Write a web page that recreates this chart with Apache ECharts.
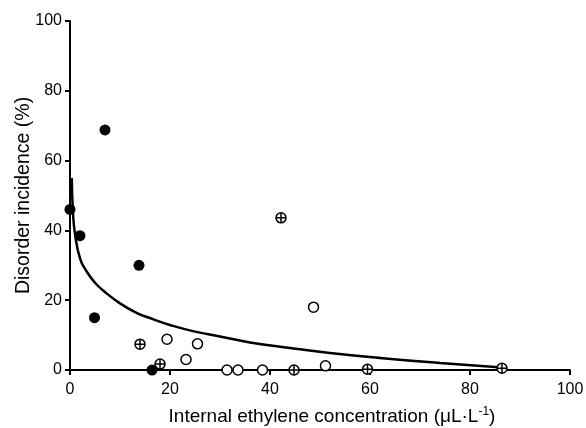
<!DOCTYPE html>
<html>
<head>
<meta charset="utf-8">
<script src="https://cdn.jsdelivr.net/npm/echarts@6/dist/echarts.min.js"></script>
<style>
  html, body { margin: 0; padding: 0; background: #fff; }
  #chart { width: 586px; height: 428px; }
</style>
</head>
<body>
<div id="chart"></div>
<script>
// filled circles
const filledX = [0, 2.0, 4.9, 7.0, 13.8, 16.4];
const filledY = [46, 38.5, 15, 68.8, 30, 0];

// open circles
const openX = [19.4, 23.2, 25.5, 31.4, 33.6, 38.5, 48.7, 51.1];
const openY = [8.8, 3.0, 7.5, 0, 0, 0, 18, 1.2];

// crossed circles
const crossX = [14.0, 18.0, 42.2, 44.8, 59.5, 86.4];
const crossY = [7.4, 1.7, 43.6, 0, 0.2, 0.5];

// fitted curve
const curveX = [0.35, 0.6, 1, 2, 3.3, 5, 6.7, 10, 13.3, 16.7, 20, 25, 30, 36, 44, 52, 62.5, 74, 86.4];
const curveY = [55, 45, 39, 32, 28.3, 25, 22.7, 19.1, 16.4, 14.5, 12.9, 11, 9.6, 7.9, 6.3, 4.9, 3.4, 2.0, 0.7];

const xTicks = [0, 20, 40, 60, 80, 100];
const yTicks = [0, 20, 40, 60, 80, 100];

const zip = (xs, ys) => xs.map((x, i) => [x, ys[i]]);

const font = "Liberation Sans, Arial, sans-serif";
const crossPath = "path://M0,-10A10,10 0 1,1 0,10A10,10 0 1,1 0,-10ZM-10,0L10,0M0,-10L0,10";

const chart = echarts.init(document.getElementById("chart"));

chart.setOption({
  animation: false,
  backgroundColor: "#fff",
  grid: { left: 70, right: 16, top: 21, bottom: 58, containLabel: false, outerBoundsMode: "none" },
  xAxis: {
    type: "value",
    min: xTicks[0],
    max: xTicks[xTicks.length - 1],
    interval: 20,
    name: "Internal ethylene concentration (μL·L{sup|-1})",
    nameLocation: "middle",
    nameGap: 36,
    nameMoveOverlap: false,
    nameTextStyle: {
      fontSize: 19,
      color: "#000",
      fontFamily: font,
      verticalAlign: "top",
      padding: [0, 0, 0, 24],
      rich: {
        sup: { fontSize: 12, color: "#000", fontFamily: font, verticalAlign: "top", padding: [0, 0, 9, 0] },
      },
    },
    axisLine: { show: true, lineStyle: { color: "#000", width: 2 } },
    axisTick: { show: true, length: 5, lineStyle: { color: "#000", width: 2 } },
    axisLabel: { color: "#000", fontSize: 16, fontFamily: font, margin: 12 },
    splitLine: { show: false },
  },
  yAxis: {
    type: "value",
    min: yTicks[0],
    max: yTicks[yTicks.length - 1],
    interval: 20,
    name: "Disorder incidence (%)",
    nameLocation: "middle",
    nameGap: 36,
    nameMoveOverlap: false,
    nameTextStyle: { fontSize: 19.5, color: "#000", fontFamily: font },
    axisLine: { show: true, lineStyle: { color: "#000", width: 2 } },
    axisTick: { show: true, length: 5, lineStyle: { color: "#000", width: 2 } },
    axisLabel: { color: "#000", fontSize: 16, fontFamily: font, margin: 8 },
    splitLine: { show: false },
  },
  series: [
    {
      type: "line",
      data: zip(curveX, curveY),
      smooth: 0.5,
      showSymbol: false,
      lineStyle: { color: "#000", width: 2.5 },
      z: 2,
    },
    {
      type: "scatter",
      data: zip(openX, openY),
      symbol: "circle",
      symbolSize: 10,
      clip: false,
      itemStyle: { color: "#fff", borderColor: "#000", borderWidth: 1.5, opacity: 1 },
      z: 3,
    },
    {
      type: "scatter",
      data: zip(crossX, crossY),
      symbol: crossPath,
      symbolSize: 10,
      clip: false,
      itemStyle: { color: "#fff", borderColor: "#000", borderWidth: 1.5, opacity: 1 },
      z: 3,
    },
    {
      type: "scatter",
      data: zip(filledX, filledY),
      symbol: "circle",
      symbolSize: 11,
      clip: false,
      itemStyle: { color: "#000", opacity: 1 },
      z: 4,
    },
  ],
});
</script>
</body>
</html>
